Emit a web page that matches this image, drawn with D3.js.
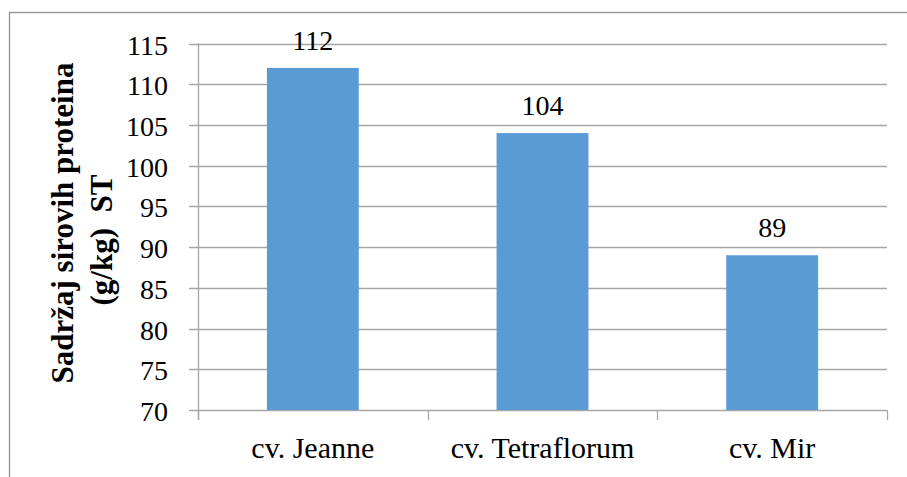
<!DOCTYPE html>
<html>
<head>
<meta charset="utf-8">
<script src="https://cdn.jsdelivr.net/npm/d3@7"></script>
<style>
  body { margin: 0; background: #fff; }
  text { font-family: "Liberation Serif", "Times New Roman", serif; }
</style>
</head>
<body>
<script>
// data
var categories = ["cv. Jeanne", "cv. Tetraflorum", "cv. Mir"];
var values = [112, 104, 89];
var yTicks = [70, 75, 80, 85, 90, 95, 100, 105, 110, 115];
var yTitleLines = ["Sadržaj sirovih proteina", "(g/kg)  ST"];

var width = 907, height = 477;

var svg = d3.select("body").append("svg")
    .attr("width", width)
    .attr("height", height);

// outer border (runs off the right and bottom edge)
svg.append("rect")
    .attr("x", 9.5).attr("y", 12.5)
    .attr("width", 920).attr("height", 500)
    .attr("fill", "none")
    .attr("stroke", "#8f8f8f")
    .attr("stroke-width", 1.3);

var plotLeft = 198, plotRight = 887, plotTop = 43.5, plotBottom = 410;

var x = d3.scaleBand().domain(categories).range([plotLeft, plotRight]).padding(0);
var y = d3.scaleLinear().domain([70, 115]).range([plotBottom, plotTop]);

var gridColor = "#a6a6a6";

//gridlines
svg.append("g").selectAll("line")
    .data(yTicks)
    .enter()
    .append("line")
    .attr("x1", plotLeft - 9).attr("x2", plotRight)
    .attr("y1", function(d) { return Math.round(y(d)) + 0.5; })
    .attr("y2", function(d) { return Math.round(y(d)) + 0.5; })
    .attr("stroke", gridColor)
    .attr("stroke-width", 1.3);

//y axis line
svg.append("line")
    .attr("x1", plotLeft + 0.5).attr("x2", plotLeft + 0.5)
    .attr("y1", y(115)).attr("y2", plotBottom + 10)
    .attr("stroke", gridColor)
    .attr("stroke-width", 1.3);

//category tick marks
var tickXs = categories.map(function(c) { return x(c); }).concat([plotRight]);
svg.append("g").selectAll("line")
    .data(tickXs)
    .enter()
    .append("line")
    .attr("x1", function(d) { return Math.round(d) + 0.5; })
    .attr("x2", function(d) { return Math.round(d) + 0.5; })
    .attr("y1", plotBottom).attr("y2", plotBottom + 10)
    .attr("stroke", gridColor)
    .attr("stroke-width", 1.3);

//bars
var barW = x.bandwidth() * 0.4;
svg.append("g").selectAll("rect")
    .data(values)
    .enter()
    .append("rect")
    .attr("x", function(d, i) { return x(categories[i]) + (x.bandwidth() - barW) / 2; })
    .attr("y", function(d) { return y(d); })
    .attr("width", barW)
    .attr("height", function(d) { return plotBottom - y(d); })
    .attr("fill", "#5b9bd5");

//data labels
svg.append("g").selectAll("text")
    .data(values)
    .enter()
    .append("text")
    .attr("x", function(d, i) { return x(categories[i]) + x.bandwidth() / 2; })
    .attr("y", function(d) { return y(d) - 18; })
    .attr("text-anchor", "middle")
    .attr("font-size", 28)
    .text(function(d) { return d; });

//y tick labels
svg.append("g").selectAll("text")
    .data(yTicks)
    .enter()
    .append("text")
    .attr("x", 168)
    .attr("y", function(d) { return y(d) + 11; })
    .attr("text-anchor", "end")
    .attr("font-size", 28)
    .text(function(d) { return d; });

//category labels
svg.append("g").selectAll("text")
    .data(categories)
    .enter()
    .append("text")
    .attr("x", function(d) { return x(d) + x.bandwidth() / 2; })
    .attr("y", 458)
    .attr("text-anchor", "middle")
    .attr("font-size", 30)
    .text(function(d) { return d; });

//y axis title
var titleX = [73, 112], titleY = [223, 240];
svg.append("g").selectAll("text")
    .data(yTitleLines)
    .enter()
    .append("text")
    .attr("transform", function(d, i) { return "translate(" + titleX[i] + "," + titleY[i] + ") rotate(-90)"; })
    .attr("text-anchor", "middle")
    .attr("font-size", 31)
    .attr("font-weight", "bold")
    .style("white-space", "pre")
    .text(function(d) { return d; });
</script>
</body>
</html>
